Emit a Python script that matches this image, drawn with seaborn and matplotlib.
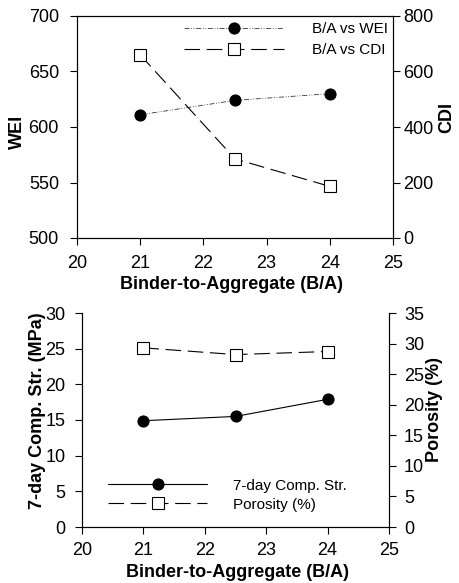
import matplotlib
matplotlib.use("Agg")
import matplotlib.pyplot as plt
import seaborn as sns
import pandas as pd

ba = [21, 22.5, 24]
wei = [611, 624, 630]
cdi = [660, 285, 186]
comp = [14.9, 15.5, 17.9]
porosity = [29.3, 28.2, 28.7]

sns.set_theme(style="white")
plt.rcParams['font.family'] = ['Liberation Sans', 'DejaVu Sans']
plt.rcParams['xtick.direction'] = 'out'
plt.rcParams['ytick.direction'] = 'out'
plt.rcParams['text.color'] = 'black'
plt.rcParams['axes.labelcolor'] = 'black'

fig = plt.figure(figsize=(4.6, 5.83), dpi=100)
W, H = 460, 583
ax1 = fig.add_axes([77 / W, 1 - 238 / H, (393 - 77) / W, (238 - 16) / H])
ax3 = fig.add_axes([82 / W, 1 - 527 / H, (389 - 82) / W, (527 - 313) / H])
ax2 = ax1.twinx()
ax4 = ax3.twinx()

df = pd.DataFrame({"ba": ba, "wei": wei, "cdi": cdi, "comp": comp, "por": porosity})

fs_tick = 13
fs_lab = 13
fs_leg = 11
ms = 8

sns.lineplot(data=df, x="ba", y="wei", ax=ax1, color="#333333", lw=0.6,
             linestyle=(0, (6, 2, 1, 2, 1, 2)), marker="o", markersize=ms,
             markerfacecolor="black", markeredgecolor="black", label="B/A vs WEI", legend=False)
sns.lineplot(data=df, x="ba", y="cdi", ax=ax2, color="black", lw=0.8,
             linestyle=(0, (14, 6)), marker="s", markersize=ms,
             markerfacecolor="white", markeredgecolor="black", markeredgewidth=0.8,
             label="B/A vs CDI", legend=False)

ax1.set_xlim(20, 25)
ax1.set_ylim(500, 700)
ax2.set_ylim(0, 800)
ax1.set_xticks([20, 21, 22, 23, 24, 25])
ax1.set_yticks([500, 550, 600, 650, 700])
ax2.set_yticks([0, 200, 400, 600, 800])
ax1.set_xlabel("Binder-to-Aggregate (B/A)", fontsize=fs_lab, fontweight="bold")
ax1.set_ylabel("WEI", fontsize=fs_lab, fontweight="bold")
ax2.set_ylabel("CDI", fontsize=fs_lab, fontweight="bold")
ax1.xaxis.set_label_coords(0.49, -0.169)
ax1.yaxis.set_label_coords(-0.161, 0.48)
ax2.yaxis.set_label_coords(1.142, 0.545)

h1, lab1 = ax1.get_legend_handles_labels()
h2, lab2 = ax2.get_legend_handles_labels()
ax2.legend(h1 + h2, lab1 + lab2, loc="upper right", frameon=False, fontsize=fs_leg,
           handlelength=6.6, borderpad=0, borderaxespad=0, handletextpad=1.8,
           labelspacing=0.45, bbox_to_anchor=(0.984, 0.973))

sns.lineplot(data=df, x="ba", y="comp", ax=ax3, color="black", lw=0.8,
             linestyle="-", marker="o", markersize=ms,
             markerfacecolor="black", markeredgecolor="black", label="7-day Comp. Str.", legend=False)
sns.lineplot(data=df, x="ba", y="por", ax=ax4, color="black", lw=0.8,
             linestyle=(0, (14, 6)), marker="s", markersize=ms,
             markerfacecolor="white", markeredgecolor="black", markeredgewidth=0.8,
             label="Porosity (%)", legend=False)

ax3.set_xlim(20, 25)
ax3.set_ylim(0, 30)
ax4.set_ylim(0, 35)
ax3.set_xticks([20, 21, 22, 23, 24, 25])
ax3.set_yticks([0, 5, 10, 15, 20, 25, 30])
ax4.set_yticks([0, 5, 10, 15, 20, 25, 30, 35])
ax3.set_xlabel("Binder-to-Aggregate (B/A)", fontsize=fs_lab, fontweight="bold")
ax3.set_ylabel("7-day Comp. Str. (MPa)", fontsize=fs_lab, fontweight="bold")
ax4.set_ylabel("Porosity (%)", fontsize=fs_lab, fontweight="bold")
ax3.xaxis.set_label_coords(0.507, -0.173)
ax3.yaxis.set_label_coords(-0.117, 0.542)
ax4.yaxis.set_label_coords(1.1205, 0.547)

h3, lab3 = ax3.get_legend_handles_labels()
h4, lab4 = ax4.get_legend_handles_labels()
ax4.legend(h3 + h4, lab3 + lab4, loc="lower left", frameon=False, fontsize=fs_leg,
           handlelength=6.5, bbox_to_anchor=(0.085, 0.072), handletextpad=1.65,
           labelspacing=0.33, borderpad=0, borderaxespad=0)

for ax in (ax1, ax2, ax3, ax4):
    for s in ax.spines.values():
        s.set_color("black")
        s.set_linewidth(0.8)
    ax.tick_params(axis="both", labelsize=fs_tick, colors="black", length=5, width=0.8)
    ax.tick_params(axis="both", which="both", bottom=True, left=True)
ax1.tick_params(axis="y", pad=8)
ax1.tick_params(axis="x", pad=7)
ax2.tick_params(axis="y", right=True, left=False, pad=2.5)
ax3.tick_params(axis="y", pad=7)
ax3.tick_params(axis="x", pad=6)
ax4.tick_params(axis="y", right=True, left=False, pad=5.8)
ax3.spines["top"].set_visible(False)
ax4.spines["top"].set_visible(False)

fig.savefig("out.png", dpi=100)
